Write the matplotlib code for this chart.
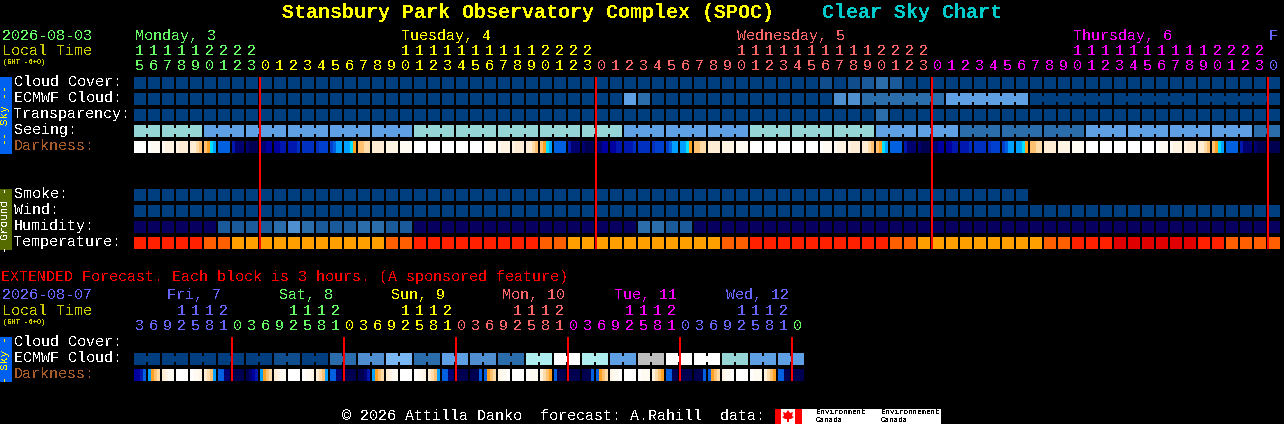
"""Clear Sky Chart for Stansbury Park Observatory Complex."""

import matplotlib
matplotlib.use("Agg")
import matplotlib.pyplot as plt

# palette levels used by the cloud style rows
CLOUD_COLORS = ["#003f7f", "#0f4d8c", "#2b6cab", "#4f8fd0", "#5f9fe4", "#7ab8f5",
                "#96d5d5", "#aeeeee", "#ffffff", "#bebebe", "#08005f", "#1a5a9a"]
TEMP_COLORS = ["#e00000", "#ff2000", "#ff5f00", "#ffa000"]
DARK_COLORS = ["#ffffff", "#fffbf2", "#fff4e4", "#ffecd4", "#ffdcaa", "#ffc070",
               "#ffa020", "#00e0ff", "#00a0ff", "#0060e0", "#0040d0", "#0030c0",
               "#0018b0", "#0000a0", "#000070", "#000050"]

cloud_cover = [0, 0, 0, 0, 0, 0, 0, 0, 0, 0, 0, 0, 0, 0, 0, 0, 0, 0, 0, 0,
               0, 0, 0, 0, 0, 0, 0, 0, 0, 0, 0, 0, 0, 0, 0, 0, 0, 0, 0, 0,
               0, 0, 0, 0, 0, 0, 0, 0, 0, 1, 0, 1, 11, 2, 11, 0, 0, 0, 0, 0,
               0, 0, 0, 0, 0, 0, 0, 0, 0, 0, 0, 0, 0, 0, 0, 0, 0, 0, 0, 0,
               0, 0]
ecmwf_cloud = [0, 0, 0, 0, 0, 0, 0, 0, 0, 0, 0, 0, 0, 0, 0, 0, 0, 0, 0, 0,
               0, 0, 0, 0, 0, 0, 0, 0, 0, 0, 0, 0, 0, 0, 0, 4, 2, 0, 0, 0,
               0, 0, 0, 0, 0, 0, 0, 0, 0, 0, 3, 3, 2, 2, 2, 2, 2, 2, 4, 4,
               4, 4, 4, 4, 0, 0, 0, 0, 0, 0, 0, 0, 0, 0, 0, 0, 0, 0, 0, 0,
               0, 0]
ecmwf_spans = [1, 1, 1, 1, 1, 1, 1, 1, 1, 1, 1, 1, 1, 1, 1, 1, 1, 1, 1, 1,
               1, 1, 1, 1, 1, 1, 1, 1, 1, 1, 1, 1, 1, 1, 1, 1, 1, 1, 1, 1,
               1, 1, 1, 1, 1, 1, 1, 1, 1, 1, 1, 1, 6, 6, 6, 6, 6]
transparency = [0, 0, 0, 0, 0, 0, 0, 0, 0, 0, 0, 0, 0, 0, 0, 0, 0, 0, 0, 0,
                0, 0, 0, 0, 0, 0, 0, 0, 0, 0, 0, 0, 0, 0, 0, 0, 0, 0, 0, 0,
                0, 0, 0, 0, 0, 0, 0, 0, 0, 0, 0, 0, 0, 2, 0, 0, 0, 0, 0, 0,
                0, 0, 0, 0, 0, 0, 0, 0, 0, 0, 0, 0, 0, 0, 0, 0, 0, 0, 0, 0,
                0, 0]
seeing = [6, 6, 6, 6, 6, 4, 4, 4, 4, 4, 4, 4, 4, 4, 4, 4, 4, 4, 4, 4,
          6, 6, 6, 6, 6, 6, 6, 6, 6, 6, 6, 6, 6, 6, 6, 4, 4, 4, 4, 4,
          4, 4, 4, 4, 6, 6, 6, 6, 6, 6, 6, 6, 6, 4, 4, 4, 4, 4, 4, 2,
          2, 2, 2, 2, 2, 2, 2, 2, 4, 4, 4, 4, 4, 4, 4, 4, 4, 4, 4, 4,
          2, 2]
seeing_spans = [2, 3, 3, 3, 3, 3, 3, 3, 3, 3, 3, 3, 3, 3, 3, 3, 3, 3, 3, 3,
                3, 3, 3, 3, 3, 3, 3, 2]
# darkness is four samples across each block, levels into DARK_COLORS
darkness = [
    [0, 0, 0, 0], [0, 1, 1, 1], [1, 2, 2, 2], [2, 3, 3, 3], [3, 3, 4, 5],
    [5, 6, 7, 8], [9, 9, 9, 9], [12, 14, 14, 14], [14, 15, 15, 15], [14, 14, 13, 13],
    [13, 13, 12, 12], [12, 12, 12, 11], [11, 11, 11, 11], [11, 10, 10, 10], [10, 9, 8, 8],
    [8, 8, 7, 6], [5, 5, 4, 4], [3, 3, 3, 3], [2, 2, 2, 2], [1, 1, 1, 1],
    [0, 0, 0, 0], [0, 0, 0, 0], [0, 0, 0, 0], [0, 0, 0, 0], [0, 0, 0, 0],
    [0, 1, 1, 1], [1, 2, 2, 2], [2, 3, 3, 3], [3, 3, 4, 5], [5, 6, 7, 8],
    [9, 9, 9, 9], [12, 14, 14, 14], [14, 15, 15, 15], [14, 14, 13, 13], [13, 13, 12, 12],
    [12, 12, 12, 11], [11, 11, 11, 11], [11, 10, 10, 10], [10, 9, 8, 8], [8, 8, 7, 6],
    [5, 5, 4, 4], [3, 3, 3, 3], [2, 2, 2, 2], [1, 1, 1, 1], [0, 0, 0, 0],
    [0, 0, 0, 0], [0, 0, 0, 0], [0, 0, 0, 0], [0, 0, 0, 0], [0, 1, 1, 1],
    [1, 2, 2, 2], [2, 3, 3, 3], [3, 3, 4, 5], [5, 6, 7, 8], [9, 9, 9, 9],
    [12, 14, 14, 14], [14, 15, 15, 15], [14, 14, 13, 13], [13, 13, 12, 12], [12, 12, 12, 11],
    [11, 11, 11, 11], [11, 10, 10, 10], [10, 9, 8, 8], [8, 8, 7, 6], [5, 5, 4, 4],
    [3, 3, 3, 3], [2, 2, 2, 2], [1, 1, 1, 1], [0, 0, 0, 0], [0, 0, 0, 0],
    [0, 0, 0, 0], [0, 0, 0, 0], [0, 0, 0, 0], [0, 1, 1, 1], [1, 2, 2, 2],
    [2, 3, 3, 3], [3, 3, 4, 5], [5, 6, 7, 8], [9, 9, 9, 9], [12, 14, 14, 14],
    [14, 15, 15, 15], [15, 15, 15, 15],
]
smoke = [0, 0, 0, 0, 0, 0, 0, 0, 0, 0, 0, 0, 0, 0, 0, 0, 0, 0, 0, 0,
         0, 0, 0, 0, 0, 0, 0, 0, 0, 0, 0, 0, 0, 0, 0, 0, 0, 0, 0, 0,
         0, 0, 0, 0, 0, 0, 0, 0, 0, 0, 0, 0, 0, 0, 0, 0, 0, 0, 0, 0,
         0, 0, 0, 0]
wind = [0, 0, 0, 0, 0, 0, 0, 0, 0, 0, 0, 0, 0, 0, 0, 0, 0, 0, 0, 0,
        0, 0, 0, 0, 0, 0, 0, 0, 0, 0, 0, 0, 0, 0, 0, 0, 0, 0, 0, 0,
        0, 0, 0, 0, 0, 0, 0, 0, 0, 0, 0, 0, 0, 0, 0, 0, 0, 0, 0, 0,
        0, 0, 0, 0, 0, 0, 0, 0, 0, 0, 0, 0, 0, 0, 0, 0, 0, 0, 0, 0,
        0, 0]
humidity = [10, 10, 10, 10, 10, 10, 11, 11, 11, 11, 2, 3, 2, 11, 11, 11, 2, 2, 11, 11,
            10, 10, 10, 10, 10, 10, 10, 10, 10, 10, 10, 10, 10, 10, 10, 10, 2, 2, 11, 11,
            10, 10, 10, 10, 10, 10, 10, 10, 10, 10, 10, 10, 10, 10, 10, 10, 10, 10, 10, 10,
            10, 10, 10, 10, 10, 10, 10, 10, 10, 10, 10, 10, 10, 10, 10, 10, 10, 10, 10, 10,
            10, 10]
temperature = [1, 1, 1, 1, 1, 2, 2, 3, 3, 3, 3, 3, 3, 3, 3, 3, 3, 3, 2, 2,
               1, 1, 1, 1, 1, 1, 1, 1, 1, 2, 2, 3, 3, 3, 3, 3, 3, 3, 3, 3,
               3, 3, 2, 2, 1, 1, 1, 1, 1, 1, 1, 1, 1, 1, 2, 2, 3, 3, 3, 3,
               3, 3, 3, 3, 3, 2, 2, 1, 1, 1, 0, 0, 0, 0, 0, 0, 1, 1, 2, 2,
               2, 2]
hours = [15, 16, 17, 18, 19, 20, 21, 22, 23,
         0, 1, 2, 3, 4, 5, 6, 7, 8, 9, 10, 11, 12, 13, 14, 15, 16, 17, 18, 19, 20, 21, 22, 23,
         0, 1, 2, 3, 4, 5, 6, 7, 8, 9, 10, 11, 12, 13, 14, 15, 16, 17, 18, 19, 20, 21, 22, 23,
         0, 1, 2, 3, 4, 5, 6, 7, 8, 9, 10, 11, 12, 13, 14, 15, 16, 17, 18, 19, 20, 21, 22, 23,
         0]
day_labels = ["Monday, 3", "Tuesday, 4", "Wednesday, 5", "Thursday, 6", "F"]
day_label_blocks = [0, 19, 43, 67, 81]
midnight_blocks = [9, 33, 57, 81]

ext_ecmwf = [0, 0, 0, 0, 0, 0, 0, 0, 0, 0, 1, 1, 0, 0, 2, 2, 3, 3, 5, 5, 2, 2, 4, 4,
             3, 3, 2, 2, 7, 7, 8, 8, 7, 7, 4, 4, 9, 9, 8, 8, 8, 8, 6, 6, 4, 4, 4, 4]
ext_spans = [2, 2, 2, 2, 2, 2, 2, 2, 2, 2, 2, 2, 2, 2, 2, 2, 2, 2, 2, 2, 2, 2, 2, 2]
ext_darkness = [
    [13, 13, 12, 9], [8, 6, 5, 4], [3, 2, 1, 1], [0, 0, 0, 0],
    [0, 1, 1, 2], [3, 4, 5, 8], [9, 9, 14, 14], [15, 15, 15, 15],
    [15, 14, 13, 12], [8, 6, 5, 4], [3, 2, 1, 1], [0, 0, 0, 0],
    [0, 1, 1, 2], [3, 4, 5, 8], [9, 9, 14, 14], [15, 15, 15, 15],
    [15, 15, 14, 12], [8, 6, 5, 4], [3, 2, 1, 1], [0, 0, 0, 0],
    [0, 1, 1, 2], [3, 4, 5, 8], [9, 9, 14, 14], [15, 15, 15, 15],
    [15, 15, 15, 9], [9, 6, 5, 4], [2, 1, 1, 0], [0, 0, 0, 0],
    [0, 1, 1, 1], [2, 4, 5, 6], [9, 15, 15, 15], [15, 15, 15, 15],
    [15, 15, 15, 9], [9, 6, 5, 4], [2, 1, 1, 0], [0, 0, 0, 0],
    [0, 1, 1, 1], [2, 4, 5, 6], [9, 9, 15, 15], [15, 15, 15, 15],
    [15, 15, 15, 9], [9, 6, 5, 4], [2, 1, 1, 0], [0, 0, 0, 0],
    [0, 1, 1, 1], [2, 4, 5, 6], [9, 9, 15, 15], [15, 15, 15, 15],
]
ext_hours = [3, 6, 9, 12, 15, 18, 21,
             0, 3, 6, 9, 12, 15, 18, 21,
             0, 3, 6, 9, 12, 15, 18, 21,
             0, 3, 6, 9, 12, 15, 18, 21,
             0, 3, 6, 9, 12, 15, 18, 21,
             0, 3, 6, 9, 12, 15, 18, 21,
             0]
ext_day_labels = ["Fri, 7", "Sat, 8", "Sun, 9", "Mon, 10", "Tue, 11", "Wed, 12"]
ext_midnight_blocks = [7, 15, 23, 31, 39, 47]

# day colours in the order the days come up
DAY_COLORS = ["#66ff66", "#ffff00", "#ff6666", "#ff00ff", "#6666ff"]
EXT_DAY_COLORS = ["#6666ff", "#66ff66", "#ffff00", "#ff6666", "#ff00ff", "#6666ff", "#66ff66"]

X0 = 134
PITCH = 14
BLOCK = 12
MONO = "Liberation Mono"
plt.rcParams["text.antialiased"] = False


def block_x(i):
    return X0 + PITCH * i


def put(ax, x, y, s, color="white", size=10.8, **kw):
    ax.text(x, y + 1, s, color=color, fontsize=size, family=MONO, va="center", **kw)


def draw_row(ax, y, values, colors, spans=None):
    xs = [block_x(i) for i in range(len(values))]
    cols = [colors[v] for v in values]
    ax.bar(xs, BLOCK, width=BLOCK, bottom=y, align="edge", color=cols,
           linewidth=0, antialiased=False)
    if spans is None:
        return
    # blocks of one forecast run are joined by a short neck
    i = 0
    for span in spans:
        for j in range(i, i + span - 1):
            ax.bar(block_x(j) + BLOCK, 6, width=PITCH - BLOCK, bottom=y + 3, align="edge",
                   color=colors[values[j]], linewidth=0, antialiased=False)
        i += span


def draw_darkness(ax, y, values):
    for i, samples in enumerate(values):
        step = BLOCK / len(samples)
        for k, level in enumerate(samples):
            ax.bar(block_x(i) + k * step, BLOCK, width=step, bottom=y, align="edge",
                   color=DARK_COLORS[level], linewidth=0, antialiased=False)


def draw_midnights(ax, blocks, y0, y1):
    for i in blocks:
        ax.bar(block_x(i) - 1, y1 - y0, width=2, bottom=y0, align="edge",
               color="#ff0000", linewidth=0, zorder=5)


def draw_hours(ax, hour_list, starts, colors, y_tens, y_ones):
    # starts: first block of each colour
    for i, h in enumerate(hour_list):
        day = sum(1 for s in starts if i >= s)
        color = colors[day]
        cx = block_x(i) + BLOCK / 2 - 0.5
        if h >= 10:
            put(ax, cx, y_tens, str(h // 10), color=color, ha="center")
        put(ax, cx, y_ones, str(h % 10), color=color, ha="center")


def side_bar(ax, y0, y1, color, text, text_color):
    ax.bar(0, y1 - y0, width=12, bottom=y0, align="edge", color=color, linewidth=0,
           antialiased=False)
    ax.text(5.5, (y0 + y1) / 2, text, color=text_color, fontsize=8, family=MONO,
            rotation=90, ha="center", va="center")


def main():
    fig = plt.figure(figsize=(12.84, 4.24), dpi=100, facecolor="black")
    ax = fig.add_axes([0, 0, 1, 1])
    ax.set_xlim(0, 1284)
    ax.set_ylim(424, 0)
    ax.axis("off")

    put(ax, 282, 11, "Stansbury Park Observatory Complex (SPOC)", color="#ffff00",
        size=14.4, weight="bold")
    put(ax, 822, 11, "Clear Sky Chart", color="#00cccc", size=14.4, weight="bold")

    put(ax, 2, 35, "2026-08-03", color="#66ff66")
    put(ax, 2, 50, "Local Time", color="#cccc00")
    put(ax, 3, 62, "(GMT -6+0)", color="#cccc00", size=5)
    for label, blk, color in zip(day_labels, day_label_blocks, DAY_COLORS):
        put(ax, block_x(blk) + 1, 35, label, color=color)
    draw_hours(ax, hours, midnight_blocks, DAY_COLORS, 50, 65)

    labels = [("Cloud Cover:", 81), ("ECMWF Cloud:", 97), ("Transparency:", 113),
              ("Seeing:", 129), ("Smoke:", 193), ("Wind:", 209), ("Humidity:", 225),
              ("Temperature:", 241)]
    for text, y in labels:
        put(ax, 14, y, text)
    put(ax, 14, 145, "Darkness:", color="#a85c28")

    draw_row(ax, 77, cloud_cover, CLOUD_COLORS)
    draw_row(ax, 93, ecmwf_cloud, CLOUD_COLORS, ecmwf_spans)
    draw_row(ax, 109, transparency, CLOUD_COLORS)
    draw_row(ax, 125, seeing, CLOUD_COLORS, seeing_spans)
    draw_darkness(ax, 141, darkness)
    draw_row(ax, 189, smoke, CLOUD_COLORS)
    draw_row(ax, 205, wind, CLOUD_COLORS)
    draw_row(ax, 221, humidity, CLOUD_COLORS)
    draw_row(ax, 237, temperature, TEMP_COLORS)
    draw_midnights(ax, midnight_blocks, 77, 249)

    side_bar(ax, 77, 154, "#0060f0", "-- Sky --", "#ffff00")
    side_bar(ax, 189, 250, "#556b00", "- Ground -", "#ffffff")

    # extended forecast
    put(ax, 1, 276, "EXTENDED Forecast. Each block is 3 hours. (A sponsored feature)",
        color="#ff0000")
    put(ax, 2, 294, "2026-08-07", color="#6666ff")
    put(ax, 2, 310, "Local Time", color="#cccc00")
    put(ax, 3, 322, "(GMT -6+0)", color="#cccc00", size=5)
    for k, label in enumerate(ext_day_labels):
        put(ax, block_x(8 * k) + 33 - 0.5 * (k > 2), 294, label, color=EXT_DAY_COLORS[k])
    draw_hours(ax, ext_hours, ext_midnight_blocks, EXT_DAY_COLORS, 310, 325)

    put(ax, 14, 341, "Cloud Cover:")
    put(ax, 14, 357, "ECMWF Cloud:")
    put(ax, 14, 373, "Darkness:", color="#a85c28")
    draw_row(ax, 353, ext_ecmwf, CLOUD_COLORS, ext_spans)
    draw_darkness(ax, 369, ext_darkness)
    draw_midnights(ax, ext_midnight_blocks, 337, 381)
    side_bar(ax, 337, 382, "#0060f0", "- Sky -", "#ffff00")

    # footer with the agency logo strip
    put(ax, 342, 415.5, "\u00a9 2026 Attilla Danko  forecast: A.Rahill  data:")
    ax.bar(775, 15, width=166, bottom=409, align="edge", color="white", linewidth=0,
           antialiased=False)
    ax.bar([775, 795], 15, width=[6, 7], bottom=409, align="edge", color="#ff0000",
           linewidth=0, antialiased=False)
    # simple maple leaf outline
    leaf_x = [788, 790, 793, 792, 794, 791, 789, 789, 787, 787, 785, 782, 784, 783, 786]
    leaf_y = [410, 413, 412, 416, 417, 419, 419, 422, 422, 419, 419, 417, 416, 412, 413]
    ax.fill(leaf_x, leaf_y, color="#ff0000", linewidth=0)
    for x, word in [(816, "Environment"), (881, "Environnement")]:
        ax.text(x, 413, word, color="black", fontsize=5.4, family=MONO, va="center")
        ax.text(x, 420, "Canada", color="black", fontsize=5.4, family=MONO, va="center")

    fig.savefig("out.png", dpi=100, facecolor="black")


if __name__ == "__main__":
    main()
